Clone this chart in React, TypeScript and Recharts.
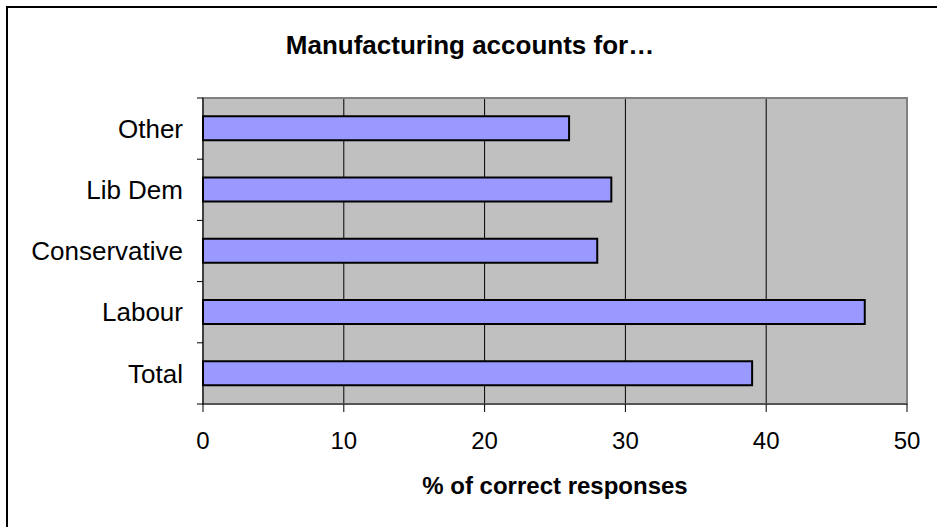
import { BarChart, Bar, XAxis, YAxis, CartesianGrid, ReferenceArea } from "recharts";

const parties = ["Other", "Lib Dem", "Conservative", "Labour", "Total"];
const correct = [26, 29, 28, 47, 39];
const xTicks = [0, 10, 20, 30, 40, 50];

const data = parties.map((p, i) => ({ party: p, pct: correct[i] }));

const font = "'Liberation Sans', Arial, sans-serif";

// category tick: label plus a short tick mark on the band boundary (Excel style)
function PartyTick(props: any) {
  const { x, y, payload, index, visibleTicksCount } = props;
  const half = payload?.offset || 30.6;
  const last = index === (visibleTicksCount ?? parties.length) - 1;
  return (
    <g>
      <line x1={x + 14} x2={x + 20} y1={y - half} y2={y - half} stroke="#000" />
      {last && <line x1={x + 14} x2={x + 20} y1={y + half} y2={y + half} stroke="#000" />}
      <text
        x={x}
        y={y}
        dy="0.355em"
        textAnchor="end"
        fontSize={26}
        fontFamily={font}
        fill="#000"
      >
        {payload.value}
      </text>
    </g>
  );
}

export default function App() {
  return (
    <div
      style={{
        position: "absolute",
        left: 0,
        top: 0,
        width: 937,
        height: 527,
        background: "#fff",
        fontFamily: font,
      }}
    >
      <div
        style={{
          position: "absolute",
          left: 6,
          top: 6,
          right: 0,
          bottom: 0,
          borderLeft: "2px solid #000",
          borderTop: "2px solid #000",
        }}
      />
      <div
        style={{
          position: "absolute",
          left: 0,
          width: 940,
          top: 30,
          textAlign: "center",
          fontWeight: "bold",
          fontSize: 26,
          color: "#000",
        }}
      >
        Manufacturing accounts for…
      </div>
      <BarChart
        width={937}
        height={527}
        data={data}
        layout="vertical"
        barCategoryGap="30%"
        margin={{ top: 98, right: 30, bottom: 23, left: 7 }}
        style={{ position: "absolute", left: 0, top: 0 }}
      >
        <CartesianGrid horizontal={false} stroke="#000" fill="#C0C0C0" fillOpacity={1} />
        <ReferenceArea x1={0} x2={50} fill="none" stroke="#808080" strokeWidth={2} />
        <XAxis
          type="number"
          domain={[0, 50]}
          ticks={xTicks}
          interval={0}
          height={100}
          tickSize={8}
          tickMargin={20}
          axisLine={{ stroke: "#555", strokeWidth: 2 }}
          tickLine={{ stroke: "#000" }}
          tick={{ fontSize: 24, fill: "#000", fontFamily: font }}
          label={{
            value: "% of correct responses",
            position: "insideBottom",
            offset: 10,
            style: { fontSize: 24, fontWeight: "bold", fill: "#000", fontFamily: font },
          }}
        />
        <YAxis
          type="category"
          dataKey="party"
          width={196}
          tickLine={false}
          axisLine={{ stroke: "#000" }}
          tickSize={0}
          tickMargin={20}
          interval={0}
          tick={<PartyTick />}
        />
        <Bar
          dataKey="pct"
          fill="#9999FF"
          stroke="#000"
          strokeWidth={2}
          isAnimationActive={false}
        />
      </BarChart>
    </div>
  );
}
